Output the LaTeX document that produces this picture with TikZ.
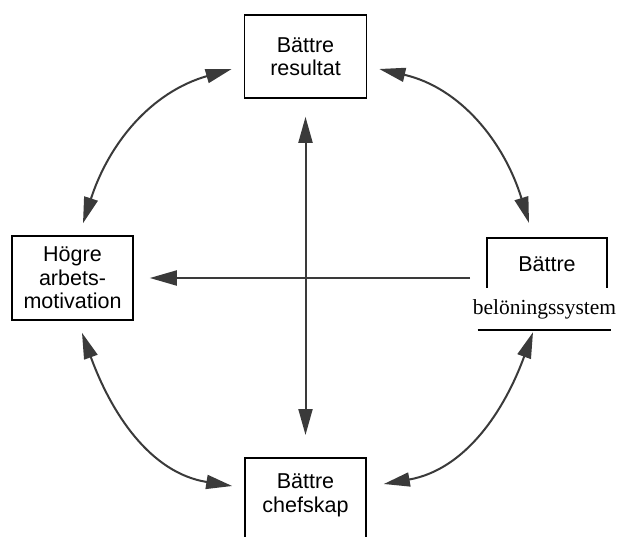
\documentclass[tikz,border=0pt]{standalone}
\usepackage{fontspec}
\setmainfont{Liberation Sans}
\newfontfamily\belfont{Liberation Serif}
\usepackage{tikz}
\usetikzlibrary{arrows.meta}
\definecolor{arrowgray}{HTML}{3A3A3A}

\begin{document}
\begin{tikzpicture}[x=1pt,y=-1pt]
    %styles
    \tikzstyle{box}=[rectangle,draw,line width=1.6pt,align=center,font=\fontsize{21.5}{23.5}\selectfont]
    \tikzstyle{twoway}=[{Triangle[length=26pt,width=14pt]}-{Triangle[length=26pt,width=14pt]},line width=2pt,color=arrowgray]
    \tikzstyle{oneway}=[-{Triangle[length=27pt,width=15pt]},line width=2pt,color=arrowgray]
    \useasboundingbox (0,0) rectangle (618,536);
    %nodes
    \node[box,minimum width=122pt,minimum height=83pt] (res) at (305.5,56.5) {Bättre\\resultat};
    \node[box,minimum width=121pt,minimum height=84pt] (mot) at (72.5,278) {Högre\\arbets-\\motivation};
    \node[box,minimum width=121pt,anchor=north,inner ysep=16pt,text depth=60pt] (chef) at (305.5,457) {Bättre\\chefskap};
    \node[box,minimum width=120pt,anchor=north,inner ysep=19pt,text depth=30pt] (rew) at (547,237) {Bättre};
    \node[fill=white,inner xsep=1pt,inner ysep=0pt,minimum height=42pt,font=\belfont\fontsize{21.5}{24}\selectfont] (bel) at (544.5,309) {belöningssystem};
    \draw[line width=1.6pt,shorten <=6pt,shorten >=6pt] (bel.south west) -- (bel.south east);

    %arrows
    \draw[twoway,shorten <=18pt,shorten >=22pt] (res) -- (chef);
    \draw[oneway,shorten <=16pt,shorten >=16pt] (rew.west |- mot.east) -- (mot.east);
    \draw[twoway] ([shift={(-12pt,-12.5pt)}]res.west) to[out=196,in=72] ([shift={(10.5pt,12pt)}]mot.north);
    \draw[twoway] ([shift={(12pt,-12.5pt)}]res.east) to[out=-13,in=107] ([shift={(-18pt,14pt)}]rew.north);
    \draw[twoway] ([shift={(9.5pt,-12pt)}]mot.south) to[out=-70,in=171] ([shift={(-12pt,-29pt)}]chef.north west);
    \draw[twoway] ([shift={(-11.5pt,-2pt)}]bel.south) to[out=250,in=10] ([shift={(17pt,-27pt)}]chef.north east);
\end{tikzpicture}
\end{document}
